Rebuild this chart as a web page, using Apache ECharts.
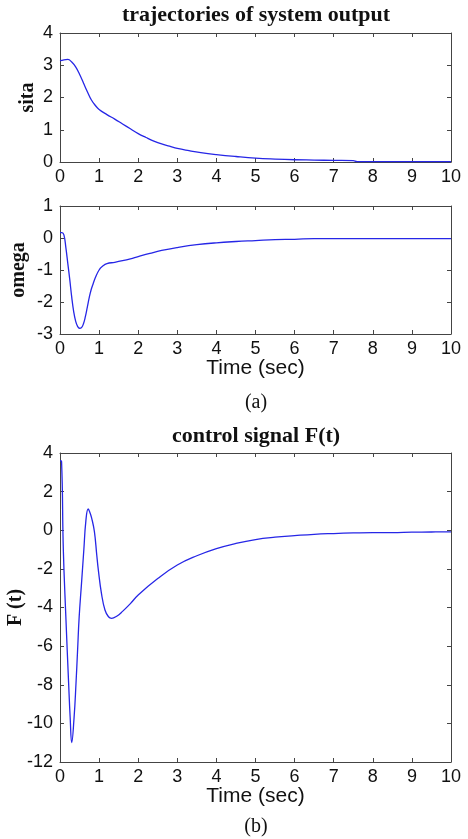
<!DOCTYPE html>
<html>
<head>
<meta charset="utf-8">
<script src="https://cdn.jsdelivr.net/npm/echarts@6/dist/echarts.min.js"></script>
<style>html,body{margin:0;padding:0;background:#fff}#c{width:468px;height:839px}</style>
</head>
<body>
<div id="c"></div>
<script>
// ---- data ----
var xTicks = [0,1,2,3,4,5,6,7,8,9,10];
var sitaT = [0,0.1,0.2,0.3,0.4,0.5,0.6,0.7,0.8,0.9,1.0,1.2,1.4,1.6,1.8,2.0,2.2,2.4,2.6,2.8,3.0,3.3,3.6,4.0,4.5,5.0,5.5,6.0,6.5,7.0,7.5,7.6,8,9,10];
var sitaV = [3.14,3.17,3.18,3.1,2.95,2.72,2.45,2.18,1.93,1.76,1.63,1.47,1.33,1.18,1.03,0.88,0.76,0.65,0.56,0.49,0.42,0.35,0.29,0.23,0.17,0.12,0.09,0.07,0.06,0.05,0.04,0.01,0.01,0.01,0.01];
var omegaT = [0,0.05,0.1,0.15,0.2,0.25,0.3,0.35,0.4,0.45,0.5,0.55,0.6,0.65,0.7,0.75,0.8,0.85,0.9,1.0,1.1,1.2,1.4,1.6,1.8,2.0,2.3,2.6,3.0,3.5,4.0,4.5,5.0,5.5,6.0,6.5,7,8,9,10];
var omegaV = [0.17,0.17,0.1,-0.3,-0.8,-1.3,-1.85,-2.3,-2.6,-2.76,-2.82,-2.8,-2.68,-2.45,-2.15,-1.85,-1.6,-1.42,-1.25,-1.0,-0.87,-0.8,-0.76,-0.71,-0.65,-0.58,-0.48,-0.39,-0.3,-0.21,-0.15,-0.11,-0.08,-0.05,-0.04,-0.02,-0.02,-0.02,-0.02,-0.02];
var fT = [0,0.04,0.085,0.15,0.22,0.26,0.30,0.36,0.41,0.45,0.49,0.55,0.61,0.66,0.72,0.76,0.81,0.88,0.94,0.98,1.06,1.15,1.24,1.32,1.45,1.6,1.8,2.0,2.5,3.0,3.5,4.0,4.5,5.0,5.5,6.0,6.5,7.0,7.5,8.0,8.5,9.0,9.5,10];
var fV = [3.6,3.56,-1.0,-4.5,-7.9,-9.7,-11.0,-9.7,-7.9,-6.2,-4.5,-2.75,-1.0,0.45,1.1,0.95,0.63,-0.07,-1.28,-2.05,-3.27,-4.13,-4.48,-4.56,-4.45,-4.2,-3.8,-3.35,-2.5,-1.8,-1.32,-0.95,-0.68,-0.48,-0.36,-0.28,-0.21,-0.17,-0.14,-0.12,-0.12,-0.1,-0.09,-0.08];

function pairs(t, v){ return t.map(function(x,i){ return [x, v[i]]; }); }

var axisCol = '#444';
var tickFont = {fontFamily:'Liberation Sans, Arial', fontSize:18, color:'#111'};
var nameSerif = {fontFamily:'Liberation Serif, Times New Roman', fontWeight:'bold', fontSize:20, color:'#111'};

var grids = [
  {left:60, right:17, top:33, height:129, outerBoundsMode:'none', containLabel:false},
  {left:60, right:17, top:206, height:128, outerBoundsMode:'none', containLabel:false},
  {left:60, right:17, top:453, height:309, outerBoundsMode:'none', containLabel:false}
];
var yCfg = [
  {min:0, max:4, interval:1, name:'sita', gap:22},
  {min:-3, max:1, interval:1, name:'omega', gap:31},
  {min:-12, max:4, interval:2, name:'F (t)', gap:34}
];
var xNames = ['', 'Time (sec)', 'Time (sec)'];

var xAxes = [], yAxes = [];
grids.forEach(function(g, i){
  xAxes.push({gridIndex:i, type:'value', min:0, max:10, interval:1, position:'bottom',
    name:xNames[i], nameLocation:'middle', nameGap:24, nameMoveOverlap:false,
    nameTextStyle:{fontFamily:'Liberation Sans, Arial', fontSize:21, color:'#111'},
    axisLine:{show:true, onZero:false, lineStyle:{color:axisCol, width:1}},
    axisTick:{show:true, inside:true, length:4, lineStyle:{color:axisCol}},
    axisLabel:Object.assign({margin:6}, tickFont), splitLine:{show:false}});
  xAxes.push({gridIndex:i, type:'value', min:0, max:10, interval:1, position:'top',
    axisLine:{show:true, onZero:false, lineStyle:{color:axisCol, width:1}},
    axisTick:{show:true, inside:true, length:4, lineStyle:{color:axisCol}},
    axisLabel:{show:false}, splitLine:{show:false}});
  var c = yCfg[i];
  yAxes.push({gridIndex:i, type:'value', min:c.min, max:c.max, interval:c.interval, position:'left',
    name:c.name, nameLocation:'middle', nameGap:c.gap, nameMoveOverlap:false, nameTextStyle:nameSerif,
    axisLine:{show:true, onZero:false, lineStyle:{color:axisCol, width:1}},
    axisTick:{show:true, inside:true, length:4, lineStyle:{color:axisCol}},
    axisLabel:Object.assign({margin:7}, tickFont), splitLine:{show:false}});
  yAxes.push({gridIndex:i, type:'value', min:c.min, max:c.max, interval:c.interval, position:'right',
    axisLine:{show:true, onZero:false, lineStyle:{color:axisCol, width:1}},
    axisTick:{show:true, inside:true, length:4, lineStyle:{color:axisCol}},
    axisLabel:{show:false}, splitLine:{show:false}});
});

function lineSeries(i, data){
  return {type:'line', xAxisIndex:i*2, yAxisIndex:i*2, data:data, showSymbol:false,
    smooth:0.45, lineStyle:{color:'#2626e6', width:1.3}, animation:false, z:3};
}

var chart = echarts.init(document.getElementById('c'), null, {renderer:'canvas'});
chart.setOption({
  backgroundColor:'#fff',
  animation:false,
  grid:grids,
  xAxis:xAxes,
  yAxis:yAxes,
  series:[lineSeries(0, pairs(sitaT, sitaV)), lineSeries(1, pairs(omegaT, omegaV)), lineSeries(2, pairs(fT, fV))],
  graphic:[
    {type:'text', x:256, y:15, style:{text:'trajectories of system output', align:'center', verticalAlign:'middle', font:'bold 22px "Liberation Serif", "Times New Roman", serif', fill:'#111'}},
    {type:'text', x:256, y:403, style:{text:'(a)', align:'center', verticalAlign:'middle', font:'20px "Liberation Serif", "Times New Roman", serif', fill:'#111'}},
    {type:'text', x:256, y:436, style:{text:'control signal F(t)', align:'center', verticalAlign:'middle', font:'bold 22px "Liberation Serif", "Times New Roman", serif', fill:'#111'}},
    {type:'text', x:256, y:827, style:{text:'(b)', align:'center', verticalAlign:'middle', font:'20px "Liberation Serif", "Times New Roman", serif', fill:'#111'}}
  ]
});
</script>
</body>
</html>
